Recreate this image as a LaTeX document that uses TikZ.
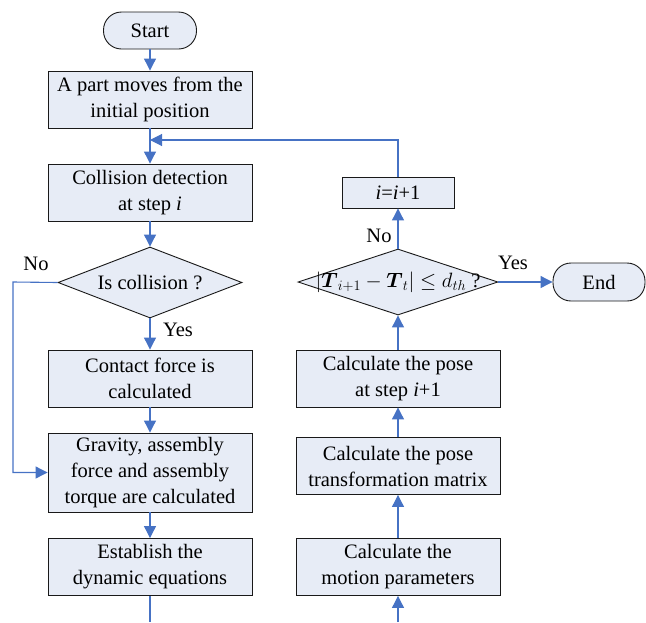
\documentclass[tikz,border=0pt]{standalone}
\usepackage{amsmath,amssymb}
\usepackage{fontspec}
\setmainfont{Liberation Serif}
\usepackage{tikz}
\usetikzlibrary{arrows.meta,shapes.geometric}
\definecolor{figline}{RGB}{25,25,25}
\definecolor{figfill}{RGB}{231,236,246}
\definecolor{figflow}{RGB}{70,114,196}
\newcommand{\fs}{\fontsize{20.5}{26}\selectfont}
\tikzset{
  blk/.style ={draw=figline, fill=figfill, line width=0.9pt, minimum width=204pt, minimum height=57pt, inner sep=0pt, align=center, font=\fs},
  trm/.style ={draw=figline, fill=figfill, line width=0.9pt, rounded corners=18pt, minimum width=93pt, minimum height=37pt, inner sep=0pt, font=\fs},
  dec/.style ={diamond, draw=figline, fill=figfill, line width=0.9pt, inner sep=0pt},
  lab/.style ={font=\fs, inner sep=1pt},
  flw/.style ={draw=figflow, line width=1.1pt, -{Triangle[length=12pt,width=12pt]}},
  fln/.style ={draw=figflow, line width=1.1pt},
}
\begin{document}
\begin{tikzpicture}[x=1pt,y=-1pt]
  \useasboundingbox (0,0) rectangle (646,622);
  % left column
  \node[trm] (start) at (150,30.5) {Start};
  \node[blk] (move) at (150,99.5) {A part moves from the\\initial position};
  \node[blk] (detect) at (150,192.5) {Collision detection\\at step \textit{i}};
  \node[dec, minimum width=184pt, minimum height=71pt, label={[lab]center:Is collision ?}] (iscol) at (150,282.5) {};
  \node[blk] (contact) at (150,378.5) {Contact force is\\calculated};
  \node[blk, minimum height=79pt] (gravity) at (150,472.5) {Gravity, assembly\\force and assembly\\torque are calculated};
  \node[blk] (dyn) at (150,567) {Establish the\\dynamic equations};
  % right column
  \node[blk] (motion) at (398,567) {Calculate the\\motion parameters};
  \node[blk] (matrix) at (398,466) {Calculate the pose\\transformation matrix};
  \node[blk] (pose) at (398,378.5) {Calculate the pose\\at step \textit{i}+1};
  \node[dec, minimum width=200pt, minimum height=66pt, label={[lab]center:$\left|\boldsymbol{T}_{i+1}-\boldsymbol{T}_{t}\right|\le d_{th}$ ?}] (conv) at (398,282) {};
  \node[blk, minimum width=112pt, minimum height=31pt] (incr) at (398,192.5) {\textit{i}=\textit{i}+1};
  \node[trm, minimum width=92pt, minimum height=38pt] (end) at (599,282) {End};
  \coordinate (loop) at (150,140);
  \coordinate (bendno) at (13,282);
  \coordinate (outl) at (150,622);
  \coordinate (inr) at (398,622);
  % labels
  \node[lab] (nol) at (36,264) {No};
  \node[lab] (yesl) at (178,330) {Yes};
  \node[lab] (nor) at (379,236) {No};
  \node[lab] (yesr) at (513,263) {Yes};
  % flow
  \draw[flw] (start) -- (move);
  \draw[flw] (move) -- (detect);
  \draw[flw] (detect) -- (iscol);
  \draw[flw] (iscol) -- (contact);
  \draw[flw] (iscol.west) -- (bendno) |- (gravity.west);
  \draw[flw] (contact) -- (gravity);
  \draw[flw] (gravity) -- (dyn);
  \draw[fln] (dyn) -- (outl);
  \draw[flw] (inr) -- (motion);
  \draw[flw] (motion) -- (matrix);
  \draw[flw] (matrix) -- (pose);
  \draw[flw] (pose) -- (conv);
  \draw[flw] (conv) -- (incr);
  \draw[flw] (incr) |- (loop);
  \draw[flw] (conv) -- (end);
\end{tikzpicture}
\end{document}
